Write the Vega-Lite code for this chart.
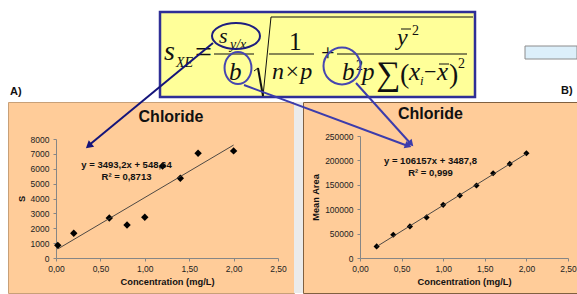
{
"$schema": "https://vega.github.io/schema/vega-lite/v6.json",
"background": "white",
"padding": {"left": 7, "top": 0, "right": 0, "bottom": 0},
"bounds": "flush",
"spacing": 0,
"config": {"view": {"stroke": null}, "axis": {"labelOverlap": false, "labelFlush": false, "labelBound": false, "labelSeparation": 0}},
"datasets": {
"left": [{"conc":0.02,"S":850},{"conc":0.2,"S":1660},{"conc":0.6,"S":2690},{"conc":0.8,"S":2220},{"conc":1.0,"S":2735},{"conc":1.2,"S":6190},{"conc":1.4,"S":5360},{"conc":1.6,"S":7040},{"conc":2.0,"S":7200}],
"right": [{"conc":0.2,"area":23800},{"conc":0.4,"area":47700},{"conc":0.6,"area":64700},{"conc":0.8,"area":83100},{"conc":1.0,"area":109000},{"conc":1.2,"area":128000},{"conc":1.4,"area":148500},{"conc":1.6,"area":173700},{"conc":1.8,"area":192800},{"conc":2.0,"area":214600}],
"one": [{}]
},
"vconcat": [
{
"width": 570, "height": 102,
"view": {"stroke": null, "fill": null},
"data": {"name": "one"},
"layer": [
{"mark": {"type":"rect","fill":"#dceffa","stroke":"#8c8c8c","strokeWidth":1},
 "encoding": {"x":{"datum":524,"type":"quantitative","scale":{"domain":[7,577],"nice":false,"zero":false},"axis":null},"x2":{"datum":576},"y":{"datum":46,"type":"quantitative","scale":{"domain":[0,102],"nice":false,"zero":false,"reverse":true},"axis":null},"y2":{"datum":59}}},
{"mark": {"type":"rect","fill":"#ffff99","stroke":"#2f2f96","strokeWidth":2.5},
 "encoding": {"x":{"datum":159,"type":"quantitative"},"x2":{"datum":474},"y":{"datum":12,"type":"quantitative"},"y2":{"datum":97}}},
{"mark": {"type":"text","text":"A)","font":"Liberation Sans","fontWeight":"bold","fontSize":11,"align":"left","baseline":"alphabetic","color":"#111"},
 "encoding": {"x":{"datum":9,"type":"quantitative"},"y":{"datum":95,"type":"quantitative"}}},
{"mark": {"type":"text","text":"B)","font":"Liberation Sans","fontWeight":"bold","fontSize":11,"align":"left","baseline":"alphabetic","color":"#111"},
 "encoding": {"x":{"datum":560,"type":"quantitative"},"y":{"datum":94,"type":"quantitative"}}},
{"mark": {"type":"text","text":"s","font":"Liberation Serif","fontStyle":"italic","fontSize":28,"align":"left","baseline":"alphabetic","color":"#111"},
 "encoding": {"x":{"datum":163,"type":"quantitative"},"y":{"datum":60,"type":"quantitative"}}},
{"mark": {"type":"text","text":"XE","font":"Liberation Serif","fontStyle":"italic","fontSize":14,"align":"left","baseline":"alphabetic","color":"#111"},
 "encoding": {"x":{"datum":175,"type":"quantitative"},"y":{"datum":67,"type":"quantitative"}}},
{"mark": {"type":"text","text":"=","font":"Liberation Serif","fontSize":30,"align":"left","baseline":"alphabetic","color":"#111"},
 "encoding": {"x":{"datum":194,"type":"quantitative"},"y":{"datum":62,"type":"quantitative"}}},
{"mark": {"type":"text","text":"s","font":"Liberation Serif","fontStyle":"italic","fontSize":22,"align":"left","baseline":"alphabetic","color":"#111"},
 "encoding": {"x":{"datum":218,"type":"quantitative"},"y":{"datum":43,"type":"quantitative"}}},
{"mark": {"type":"text","text":"y/x","font":"Liberation Serif","fontStyle":"italic","fontSize":14,"align":"left","baseline":"alphabetic","color":"#111"},
 "encoding": {"x":{"datum":229,"type":"quantitative"},"y":{"datum":49,"type":"quantitative"}}},
{"mark": {"type":"rule","color":"#111","strokeWidth":1.2},
 "encoding": {"x":{"datum":213,"type":"quantitative"},"x2":{"datum":253},"y":{"datum":54,"type":"quantitative"},"y2":{"datum":54}}},
{"mark": {"type":"text","text":"b","font":"Liberation Serif","fontStyle":"italic","fontSize":25,"align":"left","baseline":"alphabetic","color":"#111"},
 "encoding": {"x":{"datum":228,"type":"quantitative"},"y":{"datum":80,"type":"quantitative"}}},
{"mark": {"type":"rule","color":"#111","strokeWidth":1},
 "encoding": {"x":{"datum":253,"type":"quantitative"},"x2":{"datum":257},"y":{"datum":71,"type":"quantitative"},"y2":{"datum":68}}},
{"mark": {"type":"rule","color":"#111","strokeWidth":2},
 "encoding": {"x":{"datum":257,"type":"quantitative"},"x2":{"datum":262},"y":{"datum":68,"type":"quantitative"},"y2":{"datum":96}}},
{"mark": {"type":"rule","color":"#111","strokeWidth":1},
 "encoding": {"x":{"datum":262,"type":"quantitative"},"x2":{"datum":270},"y":{"datum":96,"type":"quantitative"},"y2":{"datum":17}}},
{"mark": {"type":"rule","color":"#111","strokeWidth":1},
 "encoding": {"x":{"datum":270,"type":"quantitative"},"x2":{"datum":472},"y":{"datum":17,"type":"quantitative"},"y2":{"datum":17}}},
{"mark": {"type":"text","text":"1","font":"Liberation Serif","fontSize":25,"align":"left","baseline":"alphabetic","color":"#111"},
 "encoding": {"x":{"datum":288,"type":"quantitative"},"y":{"datum":50,"type":"quantitative"}}},
{"mark": {"type":"rule","color":"#111","strokeWidth":1.2},
 "encoding": {"x":{"datum":268,"type":"quantitative"},"x2":{"datum":313},"y":{"datum":54,"type":"quantitative"},"y2":{"datum":54}}},
{"mark": {"type":"text","text":"n×p","font":"Liberation Serif","fontStyle":"italic","fontSize":24,"align":"left","baseline":"alphabetic","color":"#111"},
 "encoding": {"x":{"datum":271,"type":"quantitative"},"y":{"datum":79,"type":"quantitative"}}},
{"mark": {"type":"text","text":"+","font":"Liberation Serif","fontSize":24,"align":"left","baseline":"alphabetic","color":"#111"},
 "encoding": {"x":{"datum":320,"type":"quantitative"},"y":{"datum":60,"type":"quantitative"}}},
{"mark": {"type":"rule","color":"#111","strokeWidth":1.2},
 "encoding": {"x":{"datum":336,"type":"quantitative"},"x2":{"datum":466},"y":{"datum":54,"type":"quantitative"},"y2":{"datum":54}}},
{"mark": {"type":"text","text":"y","font":"Liberation Serif","fontStyle":"italic","fontSize":24,"align":"left","baseline":"alphabetic","color":"#111"},
 "encoding": {"x":{"datum":396,"type":"quantitative"},"y":{"datum":45,"type":"quantitative"}}},
{"mark": {"type":"rule","color":"#111","strokeWidth":1},
 "encoding": {"x":{"datum":400,"type":"quantitative"},"x2":{"datum":410},"y":{"datum":29,"type":"quantitative"},"y2":{"datum":29}}},
{"mark": {"type":"text","text":"2","font":"Liberation Serif","fontSize":14,"align":"left","baseline":"alphabetic","color":"#111"},
 "encoding": {"x":{"datum":411,"type":"quantitative"},"y":{"datum":35,"type":"quantitative"}}},
{"mark": {"type":"text","text":"b","font":"Liberation Serif","fontStyle":"italic","fontSize":25,"align":"left","baseline":"alphabetic","color":"#111"},
 "encoding": {"x":{"datum":341,"type":"quantitative"},"y":{"datum":80,"type":"quantitative"}}},
{"mark": {"type":"text","text":"2","font":"Liberation Serif","fontSize":14,"align":"left","baseline":"alphabetic","color":"#111"},
 "encoding": {"x":{"datum":355,"type":"quantitative"},"y":{"datum":70,"type":"quantitative"}}},
{"mark": {"type":"text","text":"p","font":"Liberation Serif","fontStyle":"italic","fontSize":25,"align":"left","baseline":"alphabetic","color":"#111"},
 "encoding": {"x":{"datum":361,"type":"quantitative"},"y":{"datum":80,"type":"quantitative"}}},
{"mark": {"type":"text","text":"∑","font":"Liberation Serif","fontSize":34,"align":"left","baseline":"alphabetic","color":"#111"},
 "encoding": {"x":{"datum":375,"type":"quantitative"},"y":{"datum":85,"type":"quantitative"}}},
{"mark": {"type":"text","text":"(","font":"Liberation Serif","fontSize":28,"align":"left","baseline":"alphabetic","color":"#111"},
 "encoding": {"x":{"datum":399,"type":"quantitative"},"y":{"datum":83,"type":"quantitative"}}},
{"mark": {"type":"text","text":"x","font":"Liberation Serif","fontStyle":"italic","fontSize":25,"align":"left","baseline":"alphabetic","color":"#111"},
 "encoding": {"x":{"datum":408,"type":"quantitative"},"y":{"datum":80,"type":"quantitative"}}},
{"mark": {"type":"text","text":"i","font":"Liberation Serif","fontStyle":"italic","fontSize":13,"align":"left","baseline":"alphabetic","color":"#111"},
 "encoding": {"x":{"datum":419,"type":"quantitative"},"y":{"datum":85,"type":"quantitative"}}},
{"mark": {"type":"text","text":"−","font":"Liberation Serif","fontSize":22,"align":"left","baseline":"alphabetic","color":"#111"},
 "encoding": {"x":{"datum":423,"type":"quantitative"},"y":{"datum":79,"type":"quantitative"}}},
{"mark": {"type":"text","text":"x","font":"Liberation Serif","fontStyle":"italic","fontSize":25,"align":"left","baseline":"alphabetic","color":"#111"},
 "encoding": {"x":{"datum":436,"type":"quantitative"},"y":{"datum":80,"type":"quantitative"}}},
{"mark": {"type":"rule","color":"#111","strokeWidth":1},
 "encoding": {"x":{"datum":438,"type":"quantitative"},"x2":{"datum":448},"y":{"datum":64,"type":"quantitative"},"y2":{"datum":64}}},
{"mark": {"type":"text","text":")","font":"Liberation Serif","fontSize":28,"align":"left","baseline":"alphabetic","color":"#111"},
 "encoding": {"x":{"datum":448,"type":"quantitative"},"y":{"datum":83,"type":"quantitative"}}},
{"mark": {"type":"text","text":"2","font":"Liberation Serif","fontSize":14,"align":"left","baseline":"alphabetic","color":"#111"},
 "encoding": {"x":{"datum":457,"type":"quantitative"},"y":{"datum":68,"type":"quantitative"}}},
{"mark": {"type":"point","shape":"M-1,0A1,0.54,0,1,1,1,0A1,0.54,0,1,1,-1,0Z","filled":false,"stroke":"#1e1e80","strokeWidth":2,"size":2304,"opacity":1},
 "encoding": {"x":{"datum":235,"type":"quantitative"},"y":{"datum":36,"type":"quantitative"}}},
{"mark": {"type":"point","shape":"M-0.84,0A0.84,1,0,1,1,0.84,0A0.84,1,0,1,1,-0.84,0Z","filled":false,"stroke":"#4646b0","strokeWidth":2,"size":1024,"opacity":1},
 "encoding": {"x":{"datum":237,"type":"quantitative"},"y":{"datum":68,"type":"quantitative"}}},
{"mark": {"type":"point","shape":"circle","filled":false,"stroke":"#4646b0","strokeWidth":2,"size":1369,"opacity":1},
 "encoding": {"x":{"datum":341,"type":"quantitative"},"y":{"datum":66,"type":"quantitative"}}}
]
},
{
"hconcat": [
{
"width": 286, "height": 191,
"view": {"fill": "#ffcc99", "stroke": "#c8a078", "strokeWidth": 1},
"data": {"name": "left"},
"layer": [
{"mark": {"type":"point","shape":"diamond","filled":true,"color":"#000","opacity":1,"size":55},
 "encoding": {
  "x": {"field":"conc","type":"quantitative","scale":{"domain":[0,2.5],"range":[48,270],"nice":false,"zero":false},
   "axis":{"values":[0,0.5,1,1.5,2,2.5],"labelExpr":"replace(format(datum.value,'.2f'),'.',',')","offset":-35,"title":"Concentration (mg/L)","grid":false,"domainColor":"#868686","tickColor":"#868686","tickSize":3,"labelFont":"Liberation Sans","labelFontSize":8.5,"labelColor":"#222","labelFlush":false,"labelOverlap":false,"labelPadding":3,"titleFont":"Liberation Sans","titleFontSize":9.3,"titleFontWeight":"bold","titleColor":"#111","titlePadding":5}},
  "y": {"field":"S","type":"quantitative","scale":{"domain":[0,8000],"range":[156,37],"nice":false,"zero":false},
   "axis":{"values":[0,1000,2000,3000,4000,5000,6000,7000,8000],"tickCount":9,"format":"d","offset":-48,"title":"S","grid":false,"domainColor":"#868686","tickColor":"#868686","tickSize":3,"labelFont":"Liberation Sans","labelFontSize":8.5,"labelColor":"#222","labelFlush":false,"labelOverlap":false,"labelPadding":4,"titleFont":"Liberation Sans","titleFontSize":9.3,"titleFontWeight":"bold","titleColor":"#111","titlePadding":4}}
 }},
{"transform":[{"regression":"S","on":"conc"}],
 "mark":{"type":"line","color":"#3a3a3a","strokeWidth":0.9},
 "encoding":{"x":{"field":"conc","type":"quantitative"},"y":{"field":"S","type":"quantitative"}}},
{"data": {"name":"one"},
 "mark":{"type":"text","text":"Chloride","font":"Liberation Sans","fontSize":16,"fontWeight":"bold","color":"#111","align":"center","baseline":"middle"},
 "encoding":{"x":{"datum":1.295,"type":"quantitative"},"y":{"datum":9479,"type":"quantitative"}}},
{"data": {"name":"one"},
 "mark":{"type":"text","text":["y = 3493,2x + 548,64","R² = 0,8713"],"lineHeight":12.5,"font":"Liberation Sans","fontSize":9.5,"fontWeight":"bold","color":"#111","align":"center","baseline":"middle"},
 "encoding":{"x":{"datum":0.794,"type":"quantitative"},"y":{"datum":6269,"type":"quantitative"}}},
{"data": {"name":"one"},
 "mark":{"type":"rule","color":"#14147a","strokeWidth":2,"clip":false},
 "encoding":{"x":{"datum":1.768,"type":"quantitative"},"x2":{"datum":0.36},"y":{"datum":14454,"type":"quantitative"},"y2":{"datum":7529}}},
{"data": {"name":"one"},
 "mark":{"type":"point","shape":"triangle-up","filled":true,"color":"#14147a","opacity":1,"size":70,"angle":230},
 "encoding":{"x":{"datum":0.368,"type":"quantitative"},"y":{"datum":7543,"type":"quantitative"}}}
]
},
{
"width": 9, "height": 191,
"view": {"fill": "#ebebeb", "stroke": null},
"data": {"name": "one"},
"mark": {"type": "point", "opacity": 0},
"encoding": {}
},
{
"width": 274, "height": 191,
"view": {"fill": "#ffcc99", "stroke": "#806040", "strokeWidth": 1},
"data": {"name": "right"},
"layer": [
{"mark": {"type":"point","shape":"diamond","filled":true,"color":"#000","opacity":1,"size":38},
 "encoding": {
  "x": {"field":"conc","type":"quantitative","scale":{"domain":[0,2.5],"range":[57,265],"nice":false,"zero":false},
   "axis":{"values":[0,0.5,1,1.5,2,2.5],"labelExpr":"replace(format(datum.value,'.2f'),'.',',')","offset":-35,"title":"Concentration (mg/L)","grid":false,"domainColor":"#868686","tickColor":"#868686","tickSize":3,"labelFont":"Liberation Sans","labelFontSize":8.5,"labelColor":"#222","labelFlush":false,"labelOverlap":false,"labelPadding":3,"titleFont":"Liberation Sans","titleFontSize":9.3,"titleFontWeight":"bold","titleColor":"#111","titlePadding":5}},
  "y": {"field":"area","type":"quantitative","scale":{"domain":[0,250000],"range":[156,34],"nice":false,"zero":false},
   "axis":{"values":[0,50000,100000,150000,200000,250000],"tickCount":6,"format":"d","offset":-57,"title":"Mean Area","grid":false,"domainColor":"#868686","tickColor":"#868686","tickSize":3,"labelFont":"Liberation Sans","labelFontSize":8.5,"labelColor":"#222","labelFlush":false,"labelOverlap":false,"labelPadding":4,"titleFont":"Liberation Sans","titleFontSize":9.3,"titleFontWeight":"bold","titleColor":"#111","titlePadding":4}}
 }},
{"transform":[{"regression":"area","on":"conc"}],
 "mark":{"type":"line","color":"#3a3a3a","strokeWidth":0.9},
 "encoding":{"x":{"field":"conc","type":"quantitative"},"y":{"field":"area","type":"quantitative"}}},
{"data": {"name":"one"},
 "mark":{"type":"text","text":"Chloride","font":"Liberation Sans","fontSize":16,"fontWeight":"bold","color":"#111","align":"center","baseline":"middle"},
 "encoding":{"x":{"datum":0.847,"type":"quantitative"},"y":{"datum":295080,"type":"quantitative"}}},
{"data": {"name":"one"},
 "mark":{"type":"text","text":["y = 106157x + 3487,8","R² = 0,999"],"lineHeight":11.5,"font":"Liberation Sans","fontSize":9.5,"fontWeight":"bold","color":"#111","align":"center","baseline":"middle"},
 "encoding":{"x":{"datum":0.847,"type":"quantitative"},"y":{"datum":197750,"type":"quantitative"}}},
{"data": {"name":"one"},
 "mark":{"type":"rule","color":"#3c3cac","strokeWidth":2,"clip":false},
 "encoding":{"x":{"datum":-1.394,"type":"quantitative"},"x2":{"datum":0.577},"y":{"datum":354510,"type":"quantitative"},"y2":{"datum":229510}}},
{"data": {"name":"one"},
 "mark":{"type":"rule","color":"#3c3cac","strokeWidth":2,"clip":false},
 "encoding":{"x":{"datum":-0.048,"type":"quantitative"},"x2":{"datum":0.613},"y":{"datum":358610,"type":"quantitative"},"y2":{"datum":233610}}},
{"data": {"name":"one"},
 "mark":{"type":"point","shape":"triangle-up","filled":true,"color":"#3c3cac","opacity":1,"size":60,"angle":111},
 "encoding":{"x":{"datum":0.579,"type":"quantitative"},"y":{"datum":229720,"type":"quantitative"}}},
{"data": {"name":"one"},
 "mark":{"type":"point","shape":"triangle-up","filled":true,"color":"#3c3cac","opacity":1,"size":60,"angle":138},
 "encoding":{"x":{"datum":0.613,"type":"quantitative"},"y":{"datum":234020,"type":"quantitative"}}}
]
}
],
"spacing": 0,
"bounds": "flush"
}
]
}
